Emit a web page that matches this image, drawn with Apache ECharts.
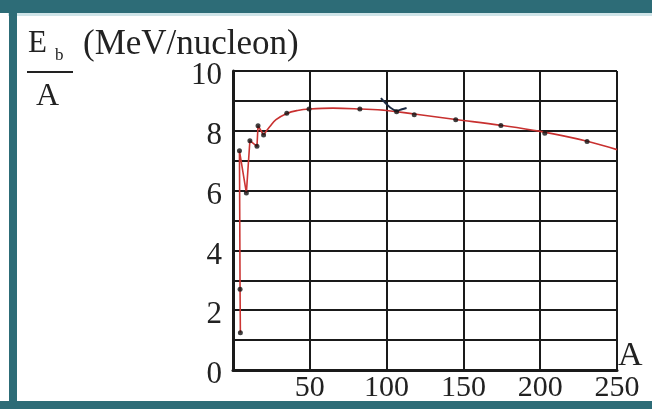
<!DOCTYPE html>
<html>
<head>
<meta charset="utf-8">
<script src="https://cdn.jsdelivr.net/npm/echarts@6/dist/echarts.min.js"></script>
<style>
html,body{margin:0;padding:0;background:#ffffff;}
#c{width:652px;height:409px;}
</style>
</head>
<body>
<div id="c"></div>
<script>
// ---- data ----
var xTicks = [0, 50, 100, 150, 200, 250];
var yTicks = [0, 2, 4, 6, 8, 10];
// light nuclei, joined by straight segments (A, Eb/A)
var lightA =   [4.8, 4.6, 4.2, 8.7, 11.0, 15.6, 16.3, 19.9];
var lightE =   [1.25, 2.7, 7.33, 5.92, 7.67, 7.48, 8.17, 7.86];
// smooth curve for heavier nuclei
var curveA =   [19.9, 24, 28, 35, 42, 50, 65, 83, 100, 118, 145, 175, 200, 230, 250];
var curveE =   [7.86, 8.14, 8.37, 8.58, 8.68, 8.73, 8.76, 8.73, 8.68, 8.56, 8.38, 8.18, 7.98, 7.66, 7.37];
// measured dots on the smooth part
var dotA =     [35, 49.5, 82.6, 106.5, 118, 145, 174.4, 203, 230.5];
var dotE =     [8.59, 8.73, 8.73, 8.64, 8.54, 8.37, 8.18, 7.92, 7.64];
// small hand-drawn mark near A = 100
var markA =    [96.3, 106.5, 110, 113];
var markE =    [9.09, 8.67, 8.72, 8.76];

function pairs(a, b){ return a.map(function(v,i){ return [v, b[i]]; }); }

var serif = 'Liberation Serif';
var teal = '#2d6c77';
var chart = echarts.init(document.getElementById('c'));
chart.setOption({
  backgroundColor: '#ffffff',
  animation: false,
  grid: {left: 233, top: 71, width: 384, height: 299, containLabel: false},
  xAxis: {
    type: 'value', min: xTicks[0], max: xTicks[xTicks.length-1], interval: 50,
    name: 'A', nameLocation: 'end', nameGap: 1,
    nameTextStyle: {fontFamily: serif, fontSize: 34, color: '#222', align: 'left', verticalAlign: 'bottom', padding: [0,0,-3,0]},
    axisLine: {show: true, lineStyle: {color: '#1a1a1a', width: 3}},
    axisTick: {show: false},
    axisLabel: {showMinLabel: false, fontFamily: serif, fontSize: 30, color: '#222', margin: 3},
    splitLine: {show: true, lineStyle: {color: '#1a1a1a', width: 2}}
  },
  yAxis: {
    type: 'value', min: yTicks[0], max: yTicks[yTicks.length-1], interval: 1,
    axisLine: {show: true, lineStyle: {color: '#1a1a1a', width: 3}},
    axisTick: {show: false},
    axisLabel: {
      fontFamily: serif, fontSize: 31, color: '#222', margin: 11,
      verticalAlign: 'top', lineHeight: 10,
      formatter: function(v){ return yTicks.indexOf(v) >= 0 ? String(v) : ''; }
    },
    splitLine: {show: true, lineStyle: {color: '#1a1a1a', width: 2}}
  },
  series: [
    {type: 'line', data: pairs(lightA, lightE), symbol: 'none', smooth: false,
     lineStyle: {color: '#cc3533', width: 1.6}, z: 3},
    {type: 'line', data: pairs(curveA, curveE), symbol: 'none', smooth: 0.4,
     lineStyle: {color: '#c8302f', width: 1.6}, z: 3},
    {type: 'line', data: pairs(markA, markE), symbol: 'none', smooth: 0.3,
     lineStyle: {color: '#1d2b42', width: 2}, z: 4},
    {type: 'scatter', data: pairs(lightA, lightE), symbol: 'circle', symbolSize: 5,
     itemStyle: {color: '#111'}, z: 5},
    {type: 'scatter', data: pairs(dotA, dotE), symbol: 'circle', symbolSize: 5,
     itemStyle: {color: '#111'}, z: 5}
  ],
  graphic: [
    {type: 'rect', shape: {x: 0, y: 0, width: 652, height: 13}, style: {fill: teal}, z: 10},
    {type: 'rect', shape: {x: 8, y: 13, width: 644, height: 3}, style: {fill: '#cfe4e8'}, z: 10},
    {type: 'rect', shape: {x: 9, y: 0, width: 8, height: 409}, style: {fill: teal}, z: 10},
    {type: 'rect', shape: {x: 0, y: 401, width: 652, height: 8}, style: {fill: teal}, z: 10},
    {type: 'text', left: 28, top: 28, style: {text: 'E', fontFamily: serif, fontSize: 31, fill: '#222'}, z: 10},
    {type: 'text', left: 55, top: 47, style: {text: 'b', fontFamily: serif, fontSize: 17, fill: '#222'}, z: 10},
    {type: 'rect', shape: {x: 27, y: 71, width: 46, height: 2}, style: {fill: '#222'}, z: 10},
    {type: 'text', left: 36, top: 81, style: {text: 'A', fontFamily: serif, fontSize: 32, fill: '#222'}, z: 10},
    {type: 'text', left: 83, top: 27, style: {text: '(MeV/nucleon)', fontFamily: serif, fontSize: 35, fill: '#222'}, z: 10}
  ]
});
</script>
</body>
</html>
